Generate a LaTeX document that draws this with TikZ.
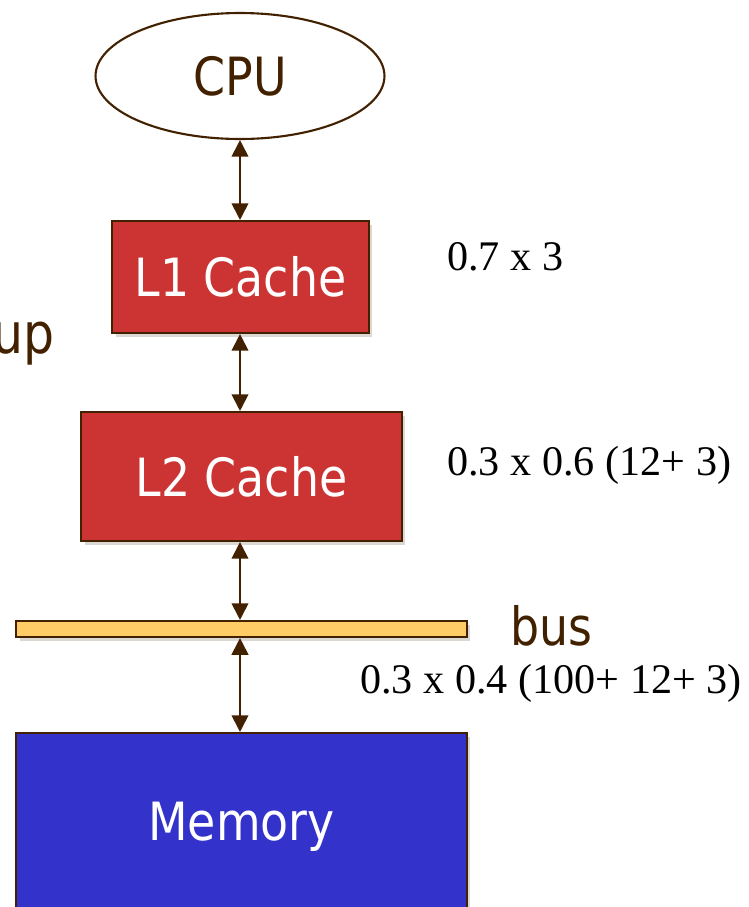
\documentclass[tikz,border=0pt]{standalone}
\usepackage{fontspec}
\setmainfont{Liberation Serif}
\newfontfamily\labelfont{DejaVu Sans}[FakeStretch=0.87]
\usetikzlibrary{arrows.meta,shadows,shapes.geometric}

\definecolor{edgebrown}{RGB}{66,33,0}
\definecolor{cachered}{RGB}{204,51,51}
\definecolor{membblue}{RGB}{51,51,204}
\definecolor{busyellow}{RGB}{255,204,102}

\tikzset{
  plainbox/.style={draw=edgebrown,line width=1.2pt,inner sep=0pt,
    font=\labelfont\fontsize{30}{36}\selectfont},
  unitbox/.style={plainbox,
    drop shadow={shadow xshift=2pt,shadow yshift=-2pt,opacity=0.18,fill=edgebrown}},
  cachebox/.style={unitbox,fill=cachered,text=white},
  link/.style={edgebrown,line width=1.1pt,{Triangle[length=9.5pt,width=9.5pt]}-{Triangle[length=9.5pt,width=9.5pt]}},
  cost/.style={anchor=base west,inner sep=0pt,font=\fontsize{24}{29}\selectfont},
  tag/.style={anchor=base west,inner sep=0pt,text=edgebrown,font=\labelfont\fontsize{30}{36}\selectfont}
}

\begin{document}
\begin{tikzpicture}[x=0.02cm,y=-0.02cm]
  \useasboundingbox (0,0) rectangle (749,907);
  \clip (0,0) rectangle (749,907);
  % the hierarchy
  \node (cpu)  [plainbox,ellipse,fill=white,text=edgebrown,
                minimum width=5.78cm,minimum height=2.52cm] at (240,76) {CPU};
  \node (lone) [cachebox,minimum width=5.14cm,minimum height=2.24cm] at (240.5,277) {L1 Cache};
  \node (ltwo) [cachebox,minimum width=6.42cm,minimum height=2.58cm] at (241.5,476.5) {L2 Cache};
  \node (bus)  [unitbox,fill=busyellow,minimum width=9.02cm,minimum height=0.32cm] at (241.5,629) {};
  \node (mem)  [unitbox,fill=membblue,text=white,minimum width=9.02cm,minimum height=3.74cm] at (241.5,826.5) {Memory};
  % links
  \draw [link] (cpu.south)  -- (cpu.south |- lone.north);
  \draw [link] (cpu.south |- lone.south) -- (cpu.south |- ltwo.north);
  \draw [link] (cpu.south |- ltwo.south) -- (cpu.south |- bus.north);
  \draw [link] (cpu.south |- bus.south)  -- (cpu.south |- mem.north);
  % labels
  \node (busname) [tag] at (510,645) {bus};
  \node (upname)  [tag,anchor=base east,font=\labelfont\fontsize{32}{38}\selectfont] at (55,353) {up};
  \node (lonecost) [cost] at (447,270) {0.7 x 3};
  \node (ltwocost) [cost] at (447,475) {0.3 x 0.6 (12+ 3)};
  \node (memcost)  [cost] at (360,693) {0.3 x 0.4 (100+ 12+ 3)};
\end{tikzpicture}
\end{document}
